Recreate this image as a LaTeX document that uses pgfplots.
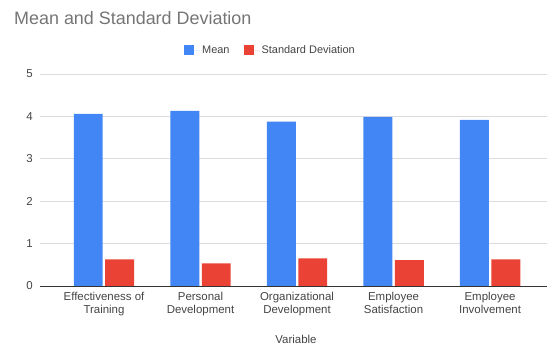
\documentclass[border=0pt]{standalone}
\usepackage{pgfplots}
\pgfplotsset{compat=1.18}
\usepackage{fontspec}
\setmainfont{Liberation Sans}
\definecolor{gblue}{HTML}{4285F4}
\definecolor{gred}{HTML}{EA4335}
\definecolor{txt}{HTML}{444444}
\definecolor{ttl}{HTML}{757575}
\definecolor{gridc}{HTML}{DCDCDC}
\begin{document}
\begin{tikzpicture}
\path (-40bp,-59bp) rectangle (508bp,286bp);
\begin{axis}[
  at={(0,0)}, anchor=south west,
  scale only axis, width=507bp, height=212bp,
  xmin=-0.663, xmax=4.59, ymin=0, ymax=5,
  ytick={0,1,2,3,4,5},
  xtick={0,1,2,3,4},
  xticklabels={{Effectiveness of\\Training},{Personal\\Development},{Organizational\\Development},{Employee\\Satisfaction},{Employee\\Involvement}},
  /pgf/number format/assume math mode=true,
  xticklabel style={align=center, inner sep=0pt, anchor=north, yshift=-6bp, font=\fontsize{11.5}{13}\selectfont, text=txt},
  yticklabel style={inner sep=0pt, anchor=east, xshift=-7bp, font=\fontsize{11.5}{13}\selectfont, text=txt},
  major tick length=0pt,
  axis line style={draw=none},
  ymajorgrids, grid style={gridc, line width=0.8bp},
  legend style={draw=none, fill=none, at={(0.4546,1.113)}, anchor=center, font=\fontsize{11}{13}\selectfont, text=txt},
  legend columns=2,
  legend image code/.code={\fill[#1] (0bp,-5bp) rectangle (10bp,5bp); \path (0bp,0bp) -- (16bp,0bp);},
  /tikz/every even column/.append style={column sep=12bp},
  clip=false,
]
\addplot[ybar, bar width=0.30, bar shift=-0.163, fill=gblue, draw=none] coordinates {(0,4.06) (1,4.13) (2,3.875) (3,3.99) (4,3.92)};
\addlegendentry{Mean}
\addplot[ybar, bar width=0.30, bar shift=0.163, fill=gred, draw=none] coordinates {(0,0.63) (1,0.535) (2,0.65) (3,0.61) (4,0.63)};
\addlegendentry{Standard Deviation}
\draw[color=black!80, line width=0.9bp] (rel axis cs:0,0) -- (rel axis cs:1,0);
\end{axis}
\node[anchor=west, inner sep=0pt, text=ttl, font=\fontsize{18}{20}\selectfont] at (-26bp,268bp) {Mean and Standard Deviation};
\node[inner sep=0pt, text=txt, font=\fontsize{11.5}{13}\selectfont] at (256bp,-53bp) {Variable};
\end{tikzpicture}
\end{document}
